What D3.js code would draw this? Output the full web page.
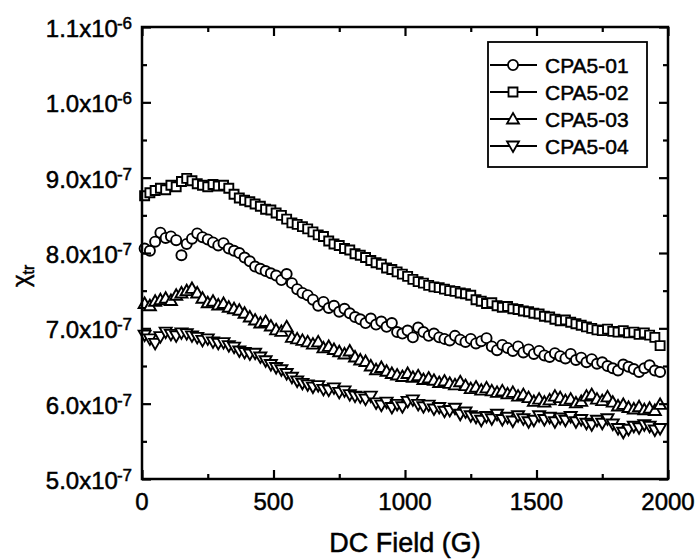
<!DOCTYPE html>
<html>
<head>
<meta charset="utf-8">
<script src="https://cdn.jsdelivr.net/npm/d3@7"></script>
<style>
  body { margin: 0; background: #fff; }
  svg { font-family: "Liberation Sans", Arial, sans-serif; }
  text { fill: #000; stroke: #000; stroke-width: 0.5px; }
</style>
</head>
<body>
<svg id="chart" width="698" height="560"></svg>
<script>
// DC field values (G), shared by all series
const field = d3.range(10, 1980, 20);

// susceptibility, in units of 1e-7
const cpa501 = [
  8.06, 8.03, 8.15, 8.27, 8.20, 8.22, 8.17, 7.97, 8.12, 8.19,
  8.26, 8.21, 8.18, 8.14, 8.10, 8.13, 8.06, 8.03, 8.00, 7.94,
  7.89, 7.82, 7.79, 7.76, 7.73, 7.70, 7.64, 7.72, 7.60, 7.52,
  7.47, 7.44, 7.38, 7.30, 7.35, 7.27, 7.30, 7.22, 7.26, 7.20,
  7.15, 7.12, 7.07, 7.13, 7.05, 7.09, 7.02, 7.07, 6.95, 6.93,
  6.97, 6.88, 7.01, 6.95, 6.90, 6.93, 6.88, 6.86, 6.84, 6.90,
  6.85, 6.82, 6.86, 6.80, 6.83, 6.87, 6.76, 6.71, 6.78, 6.74,
  6.70, 6.76, 6.68, 6.72, 6.66, 6.70, 6.64, 6.62, 6.67, 6.63,
  6.60, 6.66, 6.58, 6.61, 6.55, 6.59, 6.53, 6.55, 6.50, 6.47,
  6.44, 6.52, 6.49, 6.46, 6.42, 6.47, 6.51, 6.44, 6.42
];
const cpa502 = [
  8.76, 8.80, 8.83, 8.86, 8.84, 8.90, 8.88, 8.95, 8.99, 8.96,
  8.92, 8.90, 8.88, 8.91, 8.89, 8.90, 8.86, 8.78, 8.73, 8.70,
  8.68, 8.65, 8.62, 8.58, 8.57, 8.53, 8.50, 8.45, 8.40, 8.38,
  8.35, 8.32, 8.28, 8.24, 8.22, 8.16, 8.12, 8.10, 8.06, 8.04,
  7.99, 7.97, 7.94, 7.90, 7.87, 7.85, 7.80, 7.78, 7.75, 7.72,
  7.69, 7.65, 7.62, 7.60, 7.57, 7.55, 7.54, 7.52, 7.50, 7.49,
  7.47, 7.46, 7.44, 7.38, 7.36, 7.33, 7.34, 7.30, 7.28, 7.29,
  7.26, 7.25, 7.23, 7.22, 7.20, 7.19, 7.16, 7.15, 7.12, 7.10,
  7.11, 7.08, 7.06, 7.04, 7.02, 7.00, 6.98, 6.97, 6.99, 6.96,
  6.95, 6.97, 6.94, 6.95, 6.92, 6.94, 6.91, 6.88, 6.77
];
const cpa503 = [
  7.33, 7.30, 7.36, 7.38, 7.40, 7.37, 7.44, 7.47, 7.50, 7.53,
  7.47, 7.40, 7.34, 7.36, 7.31, 7.33, 7.28, 7.26, 7.24, 7.20,
  7.15, 7.11, 7.07, 7.09, 7.03, 6.98, 6.96, 7.02, 6.88, 6.86,
  6.84, 6.82, 6.79, 6.82, 6.74, 6.76, 6.72, 6.69, 6.66, 6.70,
  6.62, 6.58, 6.56, 6.50, 6.45, 6.48, 6.43, 6.40, 6.38, 6.36,
  6.40, 6.35, 6.37, 6.32, 6.34, 6.31, 6.28, 6.30, 6.27, 6.25,
  6.29, 6.24, 6.20, 6.22, 6.18, 6.21, 6.17, 6.15, 6.17, 6.13,
  6.15, 6.10, 6.12, 6.08, 6.03, 6.06, 6.02, 6.05, 6.10, 6.08,
  6.04, 6.06, 6.01, 6.03, 6.10, 6.12, 6.06, 6.04, 6.09, 6.02,
  5.97, 5.99, 5.95, 5.93, 5.96, 5.92, 5.94, 5.91, 5.99
];
const cpa504 = [
  6.91, 6.86, 6.80, 6.89, 6.95, 6.92, 6.90, 6.94, 6.93, 6.90,
  6.88, 6.84, 6.86, 6.82, 6.80, 6.81, 6.77, 6.75, 6.70, 6.68,
  6.66, 6.67, 6.62, 6.57, 6.52, 6.48, 6.45, 6.40, 6.35, 6.30,
  6.27, 6.25, 6.22, 6.24, 6.19, 6.18, 6.21, 6.15, 6.17, 6.12,
  6.10, 6.09, 6.06, 6.10, 6.01, 5.98, 6.02, 5.95, 5.99, 5.96,
  6.03, 6.05, 5.99, 5.96, 5.98, 5.93, 5.95, 5.90, 5.91, 5.94,
  5.86, 5.89, 5.84, 5.82, 5.78, 5.83, 5.80, 5.86, 5.79, 5.82,
  5.77, 5.84, 5.80, 5.76, 5.78, 5.84, 5.79, 5.82, 5.76, 5.81,
  5.78, 5.83, 5.76, 5.79, 5.74, 5.72, 5.78, 5.74, 5.80, 5.73,
  5.67, 5.62, 5.66, 5.70, 5.68, 5.72, 5.70, 5.65, 5.67
];

const seriesNames = ["CPA5-01", "CPA5-02", "CPA5-03", "CPA5-04"];
const seriesValues = [cpa501, cpa502, cpa503, cpa504];
const seriesSymbols = ["circle", "square", "up", "down"];

const xTicks = [0, 500, 1000, 1500, 2000];
const yTicks = [5, 6, 7, 8, 9, 10, 11];
const yTickLabels = [["5.0x10", "-7"], ["6.0x10", "-7"], ["7.0x10", "-7"], ["8.0x10", "-7"],
                     ["9.0x10", "-7"], ["1.0x10", "-6"], ["1.1x10", "-6"]];

const svg = d3.select("#chart");
const pLeft = 142, pRight = 668, pTop = 27, pBottom = 479;

const x = d3.scaleLinear().domain([0, 2000]).range([pLeft, pRight]);
const y = d3.scaleLinear().domain([5, 11]).range([pBottom, pTop]);

// marker path generator
function marker(kind, s) {
  if (kind == "circle") return d3.symbol(d3.symbolCircle, s * s * 0.8)();
  if (kind == "square") {
    const h = s * 0.45;
    return `M${-h},${-h}H${h}V${h}H${-h}Z`;
  }
  const h = s * 0.6;
  if (kind == "up") return `M0,${-h}L${h},${h * 0.75}L${-h},${h * 0.75}Z`;
  return `M0,${h}L${h},${-h * 0.75}L${-h},${-h * 0.75}Z`;
}

// data points
seriesValues.forEach((vals, k) => {
  svg.append("g")
    .selectAll("path")
    .data(vals.map((v, i) => [field[i], v]))
    .join("path")
    .attr("d", marker(seriesSymbols[k], 10))
    .attr("transform", (d) => `translate(${x(d[0])},${y(d[1])})`)
    .attr("fill", "#fff")
    .attr("stroke", "#000")
    .attr("stroke-width", 1.9);
});

// axes: ticks point inward on all four sides
const minorX = d3.range(0, 2001, 250);
const minorY = d3.range(5, 11.01, 0.5);

svg.append("g").attr("transform", `translate(0,${pBottom})`)
  .call(d3.axisTop(x).tickValues(minorX).tickSize(0).tickFormat(""))
  .call((g) => g.selectAll(".tick line").attr("y2", (d) => (d % 500 == 0 ? -9 : -5)));
svg.append("g").attr("transform", `translate(0,${pTop})`)
  .call(d3.axisBottom(x).tickValues(minorX).tickSize(0).tickFormat(""))
  .call((g) => g.selectAll(".tick line").attr("y2", (d) => (d % 500 == 0 ? 9 : 5)));
svg.append("g").attr("transform", `translate(${pLeft},0)`)
  .call(d3.axisRight(y).tickValues(minorY).tickSize(0).tickFormat(""))
  .call((g) => g.selectAll(".tick line").attr("x2", (d) => (d % 1 == 0 ? 9 : 5)));
svg.append("g").attr("transform", `translate(${pRight},0)`)
  .call(d3.axisLeft(y).tickValues(minorY).tickSize(0).tickFormat(""))
  .call((g) => g.selectAll(".tick line").attr("x2", (d) => (d % 1 == 0 ? -9 : -5)));

svg.selectAll(".domain").remove();
svg.selectAll(".tick line").attr("stroke", "#000").attr("stroke-width", 2.2);

svg.append("rect")
  .attr("x", pLeft).attr("y", pTop)
  .attr("width", pRight - pLeft).attr("height", pBottom - pTop)
  .attr("fill", "none").attr("stroke", "#000").attr("stroke-width", 2.5);

// tick labels
svg.append("g").selectAll("text")
  .data(xTicks)
  .join("text")
  .attr("x", (d) => x(d))
  .attr("y", pBottom + 31)
  .attr("text-anchor", "middle")
  .attr("font-size", 24)
  .text((d) => d);

const yl = svg.append("g").selectAll("text")
  .data(yTicks)
  .join("text")
  .attr("x", pLeft - 10)
  .attr("y", (d) => y(d) + 10)
  .attr("text-anchor", "end")
  .attr("font-size", 24);
yl.append("tspan").text((d, i) => yTickLabels[i][0]);
yl.append("tspan").attr("dy", -8).attr("dx", -1).attr("font-size", 17).text((d, i) => yTickLabels[i][1]);

// axis titles
svg.append("text")
  .attr("x", (pLeft + pRight) / 2)
  .attr("y", 552)
  .attr("text-anchor", "middle")
  .attr("font-size", 27)
  .text("DC Field (G)");

const yt = svg.append("text")
  .attr("transform", "translate(29,287) rotate(-90)")
  .attr("font-size", 24);
yt.append("tspan").text("χ");
yt.append("tspan").attr("dy", 5).attr("font-size", 16).text("tr");

// legend
const lg = svg.append("g");
lg.append("rect")
  .attr("x", 488).attr("y", 42)
  .attr("width", 159).attr("height", 125)
  .attr("fill", "#fff").attr("stroke", "#000").attr("stroke-width", 1.8);

seriesNames.forEach((name, k) => {
  const ry = 65 + k * 27;
  lg.append("line").attr("x1", 490).attr("x2", 537).attr("y1", ry).attr("y2", ry)
    .attr("stroke", "#000").attr("stroke-width", 1.8);
  lg.append("path")
    .attr("d", marker(seriesSymbols[k], 10))
    .attr("transform", `translate(513,${ry})`)
    .attr("fill", "#fff").attr("stroke", "#000").attr("stroke-width", 1.8);
  lg.append("text")
    .attr("x", 545).attr("y", ry + 8)
    .attr("font-size", 21)
    .text(name);
});
</script>
</body>
</html>
